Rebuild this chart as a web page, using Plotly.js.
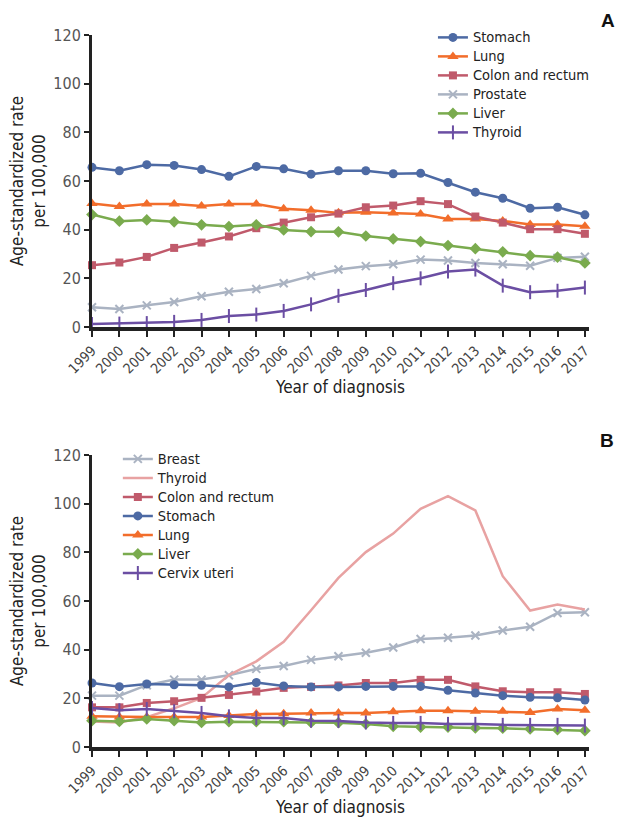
<!DOCTYPE html>
<html>
<head>
<meta charset="utf-8">
<script src="https://cdn.plot.ly/plotly-3.0.1.min.js"></script>
<style>html,body{margin:0;padding:0;background:#fff;}#chart{width:623px;height:823px;}</style>
</head>
<body>
<div id="chart"></div>
<script>
var years = [1999,2000,2001,2002,2003,2004,2005,2006,2007,2008,2009,2010,2011,2012,2013,2014,2015,2016,2017];
var yearLabels = years.map(String);
var yTicks = [0,20,40,60,80,100,120];

// Panel A
var aStomach = [65.6,64.2,66.7,66.4,64.7,61.9,66.0,65.0,62.8,64.2,64.2,63.0,63.2,59.4,55.4,52.9,48.8,49.2,46.1];
var aLung = [50.8,49.5,50.5,50.5,49.7,50.5,50.5,48.6,48.0,46.9,47.2,46.8,46.4,44.4,44.4,43.6,42.1,42.1,41.4];
var aColon = [25.4,26.5,28.8,32.5,34.7,37.2,40.6,42.9,45.1,46.6,49.2,49.9,51.7,50.5,45.4,42.9,40.2,40.2,38.3];
var aProstate = [8.1,7.4,8.9,10.3,12.6,14.5,15.6,18.0,21.0,23.6,25.0,25.8,27.7,27.3,26.3,25.8,25.2,28.4,28.9];
var aLiver = [46.2,43.5,44.0,43.2,42.0,41.3,42.0,39.9,39.2,39.1,37.4,36.2,35.1,33.5,32.2,30.9,29.3,28.7,26.3];
var aThyroid = [1.2,1.4,1.6,2.1,2.9,4.5,5.1,6.6,9.3,12.8,15.2,18.0,20.0,22.8,23.6,17.0,14.3,14.9,16.2];

// Panel B
var bBreast = [21.1,21.1,25.4,27.7,27.7,29.5,32.1,33.3,35.8,37.3,38.7,40.9,44.4,44.9,45.8,47.9,49.4,55.1,55.4];
var bThyroid = [10.5,10.1,12.3,15.9,20.2,29.6,35.2,43.2,56.2,69.5,80.1,87.7,97.9,103.1,97.2,70.2,56.1,58.6,56.5];
var bColon = [16.3,16.3,18.1,18.8,20.2,21.4,22.8,24.3,24.7,25.3,26.3,26.3,27.6,27.6,24.9,22.9,22.5,22.5,21.8];
var bStomach = [26.3,24.8,25.9,25.6,25.4,24.7,26.5,25.1,24.7,24.7,24.9,24.9,24.9,23.3,22.2,21.1,20.4,20.2,19.3];
var bLung = [12.6,12.3,12.3,12.3,12.3,12.9,13.6,13.7,14.0,14.0,14.0,14.5,14.9,14.9,14.7,14.7,14.2,15.6,15.1];
var bLiver = [10.8,10.5,11.5,10.8,10.1,10.4,10.4,10.4,10.1,10.0,9.5,8.5,8.2,8.2,7.8,7.7,7.4,7.1,6.7];
var bCervix = [16.0,15.1,15.6,14.7,14.0,12.6,11.9,11.9,10.8,10.7,10.1,9.9,9.9,9.5,9.5,9.1,9.1,9.1,8.8];

var C = {
  stomach:'#4d6aa4', lung:'#f26d2b', colon:'#c05a6b', gray:'#aab3c2',
  liver:'#7aab4e', purple:'#6b4ea3', pink:'#e8a2a2'
};
var FONT = "'Liberation Sans Narrow','DejaVu Sans Condensed',sans-serif";

function lbl(s) { return '<span style="font-size:14.5px">' + s + '</span>'; }

function tr(x, y, name, color, symbol, size, axis, legend, lineOnly) {
  var t = {
    x: x, y: y, name: lbl(name), type: 'scatter',
    mode: lineOnly ? 'lines' : 'lines+markers',
    line: {color: color, width: 2.5},
    xaxis: axis === 2 ? 'x2' : 'x', yaxis: axis === 2 ? 'y2' : 'y',
    legend: legend, cliponaxis: false
  };
  if (!lineOnly) {
    t.marker = {symbol: symbol, size: size, color: color, line: {color: color, width: (symbol.indexOf('line') === 0 || symbol.indexOf('x-thin') === 0) ? 2 : 0}};
  }
  return t;
}

var data = [
  tr(years, aStomach, 'Stomach', C.stomach, 'circle', 9, 1, 'legend'),
  tr(years, aLung, 'Lung', C.lung, 'triangle-up', 10, 1, 'legend'),
  tr(years, aColon, 'Colon and rectum', C.colon, 'square', 8, 1, 'legend'),
  tr(years, aProstate, 'Prostate', C.gray, 'x-thin', 8, 1, 'legend'),
  tr(years, aLiver, 'Liver', C.liver, 'diamond', 9, 1, 'legend'),
  tr(years, aThyroid, 'Thyroid', C.purple, 'line-ns', 10, 1, 'legend'),
  tr(years, bBreast, 'Breast', C.gray, 'x-thin', 8, 2, 'legend2'),
  tr(years, bThyroid, 'Thyroid', C.pink, null, 0, 2, 'legend2', true),
  tr(years, bColon, 'Colon and rectum', C.colon, 'square', 8, 2, 'legend2'),
  tr(years, bStomach, 'Stomach', C.stomach, 'circle', 9, 2, 'legend2'),
  tr(years, bLung, 'Lung', C.lung, 'triangle-up', 10, 2, 'legend2'),
  tr(years, bLiver, 'Liver', C.liver, 'diamond', 9, 2, 'legend2'),
  tr(years, bCervix, 'Cervix uteri', C.purple, 'line-ns', 10, 2, 'legend2')
];

function xax(anchor) {
  return {
    anchor: anchor, range: [1999, 2017.15], tickmode: 'array', tickvals: years, ticktext: yearLabels,
    tickangle: -45, ticks: 'outside', ticklen: 6, tickwidth: 2, tickcolor: '#222',
    showline: true, linecolor: '#222', linewidth: 4, showgrid: false, zeroline: false,
    tickfont: {family: FONT, size: 14, color: '#444'},
    title: {text: 'Year of diagnosis', font: {family: FONT, size: 17, color: '#222'}, standoff: 3},
    automargin: false, fixedrange: true
  };
}
function yax(anchor, domain) {
  return {
    anchor: anchor, domain: domain, range: [0, 120], tickmode: 'array', tickvals: yTicks,
    ticks: 'outside', ticklen: 5, tickwidth: 2, tickcolor: '#222',
    showline: true, linecolor: '#222', linewidth: 3, showgrid: false, zeroline: false,
    tickfont: {family: FONT, size: 16, color: '#555'},
    title: {text: 'Age-standardized rate<br>per 100,000', font: {family: FONT, size: 17, color: '#222'}, standoff: 4},
    automargin: false, fixedrange: true
  };
}

var legendBase = {
  font: {family: FONT, size: 12, color: '#222'}, bgcolor: 'rgba(0,0,0,0)',
  xanchor: 'left', yanchor: 'top', tracegroupgap: 0, itemwidth: 30
};

var layout = {
  width: 623, height: 823,
  margin: {l: 92, r: 34, t: 35, b: 76},
  paper_bgcolor: '#fff', plot_bgcolor: '#fff',
  font: {family: FONT},
  xaxis: xax('y'),
  yaxis: yax('x', [0.5899, 1]),
  xaxis2: xax('y2'),
  yaxis2: yax('x2', [0, 0.4101]),
  legend: Object.assign({}, legendBase, {x: 0.686, y: 1.017}),
  legend2: Object.assign({}, legendBase, {x: 0.052, y: 0.425}),
  annotations: [
    {text: '<b>A</b>', xref: 'paper', yref: 'paper', x: 1.038, y: 1.021, showarrow: false, font: {family: 'Liberation Sans, Arial, sans-serif', size: 19, color: '#111'}, xanchor: 'center', yanchor: 'middle'},
    {text: '<b>B</b>', xref: 'paper', yref: 'paper', x: 1.036, y: 0.431, showarrow: false, font: {family: 'Liberation Sans, Arial, sans-serif', size: 19, color: '#111'}, xanchor: 'center', yanchor: 'middle'}
  ],
  showlegend: true
};

Plotly.newPlot('chart', data, layout, {displayModeBar: false, staticPlot: true});
</script>
</body>
</html>
